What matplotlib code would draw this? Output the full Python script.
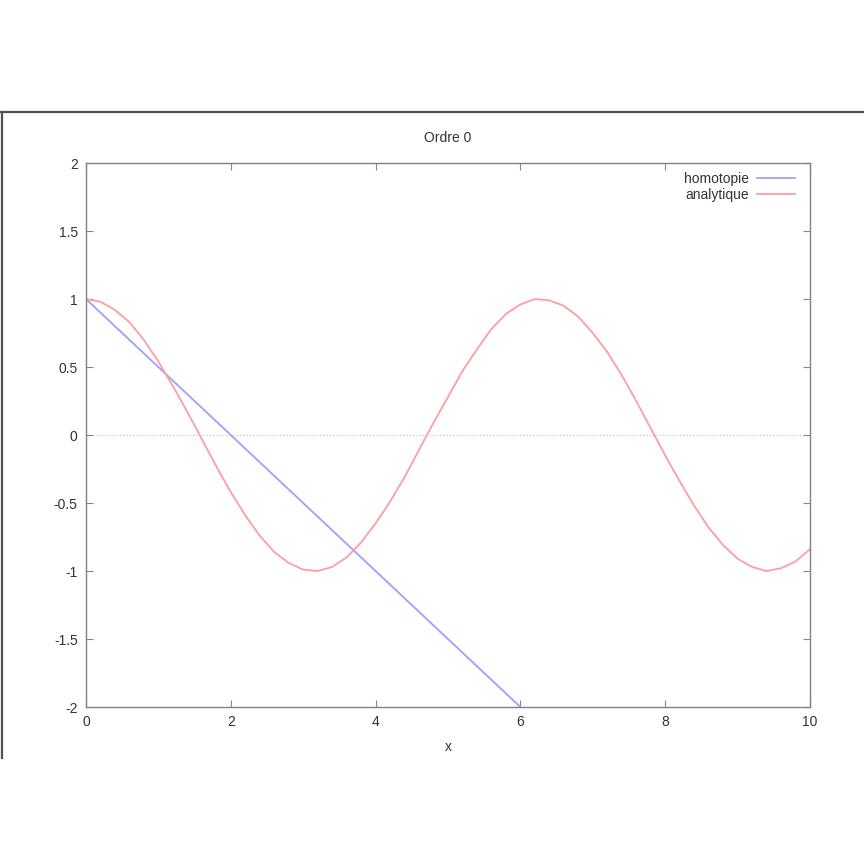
import matplotlib
matplotlib.use("Agg")
import matplotlib.pyplot as plt
from matplotlib.lines import Line2D

plt.rcParams['font.family'] = ['Liberation Sans', 'DejaVu Sans']

# data
x_analytique = [0.0, 0.2, 0.4, 0.6, 0.8, 1.0, 1.2, 1.4, 1.6, 1.8,
                2.0, 2.2, 2.4, 2.6, 2.8, 3.0, 3.2, 3.4, 3.6, 3.8,
                4.0, 4.2, 4.4, 4.6, 4.8, 5.0, 5.2, 5.4, 5.6, 5.8,
                6.0, 6.2, 6.4, 6.6, 6.8, 7.0, 7.2, 7.4, 7.6, 7.8,
                8.0, 8.2, 8.4, 8.6, 8.8, 9.0, 9.2, 9.4, 9.6, 9.8, 10.0]
y_analytique = [1.00, 0.98, 0.92, 0.83, 0.70, 0.54, 0.36, 0.17, -0.03, -0.23,
                -0.42, -0.59, -0.74, -0.86, -0.94, -0.99, -1.00, -0.97, -0.90, -0.79,
                -0.65, -0.49, -0.31, -0.11, 0.09, 0.28, 0.47, 0.63, 0.78, 0.89,
                0.96, 1.00, 0.99, 0.95, 0.87, 0.75, 0.61, 0.44, 0.25, 0.05,
                -0.15, -0.34, -0.52, -0.68, -0.81, -0.91, -0.97, -1.00, -0.98, -0.93, -0.84]
x_homotopie = [0.0, 6.0]
y_homotopie = [1.0, -2.0]

xticks = [0, 2, 4, 6, 8, 10]
yticks = [-2, -1.5, -1, -0.5, 0, 0.5, 1, 1.5, 2]
ytick_labels = ['-2', '-1.5', '-1', '-0.5', '0', '0.5', '1', '1.5', '2']

fig = plt.figure(figsize=(8.64, 8.64), dpi=100)
ax = fig.add_axes([0.0995, 0.1817, 0.838, 0.6296])

# frame of the cropped screenshot
fig.add_artist(Line2D([0, 1], [0.8704, 0.8704], color='#505050', lw=1.6))
fig.add_artist(Line2D([0.002, 0.002], [0.8704, 0.1227], color='#505050', lw=1.6))

ax.axhline(0, color='#bbbbbb', lw=0.8, ls=(0, (1, 2)), zorder=1)
ax.plot(x_homotopie, y_homotopie, color='#9f9fff', lw=1.3, label='homotopie')
ax.plot(x_analytique, y_analytique, color='#ff9ca4', lw=1.3, label='analytique')

ax.set_xlim(0, 10)
ax.set_ylim(-2, 2)
ax.set_xticks(xticks)
ax.set_yticks(yticks)
ax.set_yticklabels(ytick_labels)
ax.tick_params(direction='in', length=5, width=0.8, color='#888888',
               labelsize=10, labelcolor='#333333', top=True, right=True, pad=6)
for s in ax.spines.values():
    s.set_color('#808080')
    s.set_linewidth(1.0)

ax.set_title('Ordre 0', fontsize=10, color='#333333', pad=15)
ax.set_xlabel('x', fontsize=10, color='#333333', labelpad=8)

ax.legend(loc='upper right', bbox_to_anchor=(0.9917, 1.0), frameon=False,
          markerfirst=False, fontsize=10, handlelength=2.7, handletextpad=0.6,
          labelspacing=0.15, borderaxespad=0.25, labelcolor='#333333')

fig.savefig('out.png', dpi=100)
